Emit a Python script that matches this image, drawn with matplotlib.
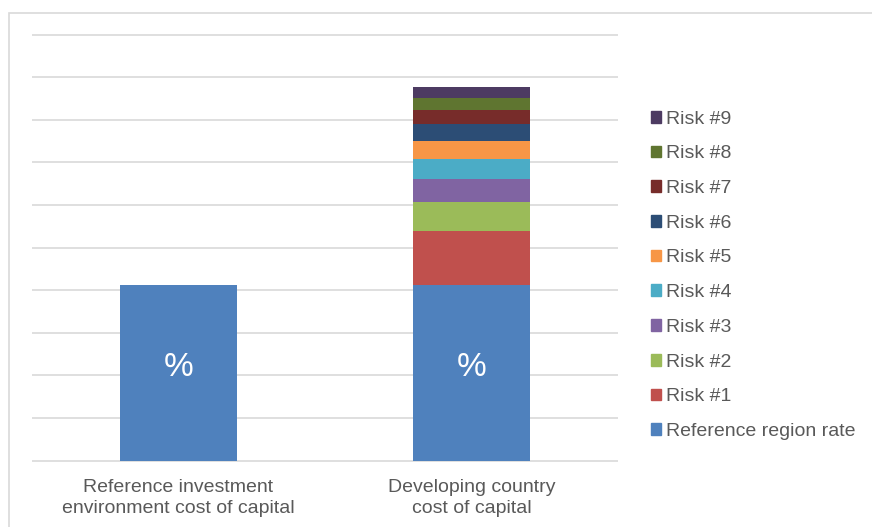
import matplotlib.pyplot as plt
from matplotlib.patches import Patch, Rectangle

plt.rcParams['font.family'] = ['Liberation Sans', 'DejaVu Sans']

# --- datos ---
categorias = ["Reference investment\nenvironment cost of capital",
              "Developing country\ncost of capital"]
tasa_referencia = [4.13, 4.13]
riesgos = ["Risk #1", "Risk #2", "Risk #3", "Risk #4", "Risk #5",
           "Risk #6", "Risk #7", "Risk #8", "Risk #9"]
valores_riesgo = [1.25, 0.70, 0.52, 0.47, 0.44, 0.40, 0.33, 0.28, 0.26]
colores_riesgo = ['#C0504D', '#9BBB59', '#8064A2', '#4BACC6', '#F79646',
                  '#2C4D75', '#772C2A', '#5F7530', '#4D3B62']
azul = '#4F81BD'
gris_texto = '#595959'
gris_linea = '#D9D9D9'

fig = plt.figure(figsize=(8.72, 5.27), dpi=100)
# 1 unidad = 42.6 px, base en y=460.7 px
ax = fig.add_axes([32 / 872, 1 - 462.8 / 527, 586 / 872, 430.3 / 527])

# marco del área del gráfico
fig.patches.append(Rectangle((9 / 872, -0.05), 1.0, 1 - 12.5 / 527 + 0.05,
                             transform=fig.transFigure, fill=False,
                             edgecolor=gris_linea, linewidth=1.2))

x = [0, 1]
ancho = 0.4
ax.bar(x, tasa_referencia, width=ancho, color=azul, zorder=3)
for xi, v in zip(x, tasa_referencia):
    ax.text(xi, v / 2 + 0.12, "%", color='white', fontsize=24,
            ha='center', va='center', zorder=4)

# apilar los riesgos en la segunda barra
base = tasa_referencia[1]
for nombre, v, c in zip(riesgos, valores_riesgo, colores_riesgo):
    ax.bar(1, v, width=ancho, bottom=base, color=c, zorder=3)
    base += v

ax.set_xlim(-0.5, 1.5)
ax.set_ylim(-0.05, 10.05)
ax.set_yticks(range(0, 11))
ax.yaxis.grid(True, color=gris_linea, linewidth=1.2)
ax.set_axisbelow(True)
ax.tick_params(axis='y', left=False, labelleft=False)
ax.tick_params(axis='x', length=0, pad=12, labelsize=14, labelcolor=gris_texto)
ax.set_xticks(x)
ax.set_xticklabels(categorias, linespacing=1.25)
for s in ax.spines.values():
    s.set_visible(False)

# leyenda (orden invertido como en la pila)
handles = [Patch(color=azul, label="Reference region rate")]
handles += [Patch(color=c, label=n) for n, c in zip(riesgos, colores_riesgo)]
handles = handles[::-1]
leg = fig.legend(handles=handles, loc='upper left',
                 bbox_to_anchor=(641 / 872, 1 - 101 / 527), frameon=False,
                 fontsize=14, handlelength=0.55, handleheight=0.55,
                 handletextpad=0.25, labelspacing=0.91, borderpad=0)
for t in leg.get_texts():
    t.set_color(gris_texto)

fig.savefig("out.png", dpi=100)
